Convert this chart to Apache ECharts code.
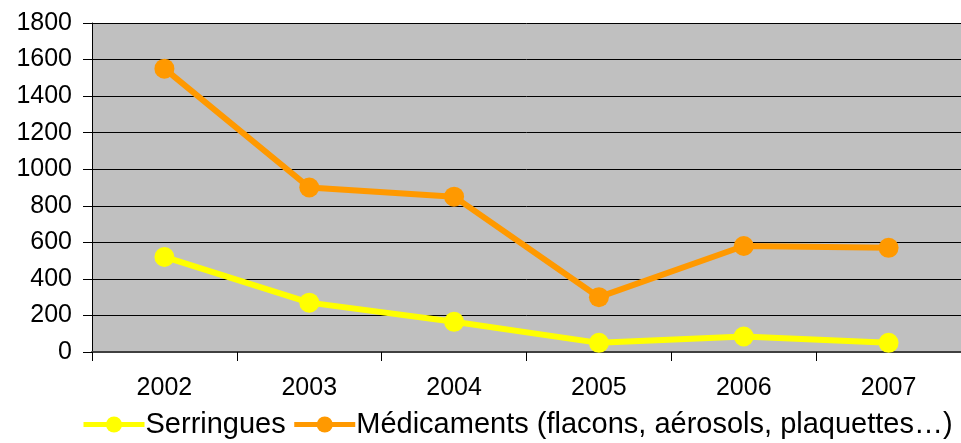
<!DOCTYPE html>
<html>
<head>
<meta charset="utf-8">
<script src="https://cdn.jsdelivr.net/npm/echarts@6/dist/echarts.min.js"></script>
<style>
  html, body { margin: 0; padding: 0; background: #fff; }
  #main { width: 961px; height: 443px; }
</style>
</head>
<body>
<div id="main"></div>
<script>
// years on x axis
const years = ['2002', '2003', '2004', '2005', '2006', '2007']
// syringes collected
const serringues = [520, 270, 165, 50, 85, 50]
// medicines (vials, aerosols, blister packs)
const medicaments = [1550, 900, 850, 300, 580, 570]

const font = '"Liberation Sans", Arial, sans-serif'

let myChart = echarts.init(document.getElementById('main'))
let options = {
  animation: false,
  backgroundColor: '#ffffff',
  textStyle: { fontFamily: font },
  grid: {
    left: 92,
    right: -2,
    top: 23,
    bottom: 91,
    show: true,
    backgroundColor: '#c0c0c0',
    borderWidth: 0
  },
  legend: {
    left: 76,
    top: 405,
    itemWidth: 61,
    itemHeight: 20,
    itemGap: 6,
    lineStyle: { width: 5 },
    textStyle: { fontFamily: font, fontSize: 29, color: '#000', padding: [0, 0, 0, -4] },
    data: ['Serringues', 'Médicaments (flacons, aérosols, plaquettes…)']
  },
  xAxis: {
    type: 'category',
    data: years,
    boundaryGap: true,
    axisLine: { lineStyle: { color: '#404040', width: 2 } },
    axisTick: { show: true, length: 9, lineStyle: { color: '#000' } },
    axisLabel: { fontFamily: font, fontSize: 25, color: '#000', margin: 24 },
    splitLine: { show: false }
  },
  yAxis: {
    type: 'value',
    min: 0,
    max: 1800,
    interval: 200,
    axisLine: { show: true, lineStyle: { color: '#000', width: 1 } },
    axisTick: { show: true, inside: false, length: 9, lineStyle: { color: '#000' } },
    axisLabel: { fontFamily: font, fontSize: 25, color: '#000', margin: 20, formatter: v => String(v) },
    splitLine: { show: true, lineStyle: { color: '#000', width: 1 } }
  },
  series: [{
    name: 'Serringues',
    type: 'line',
    data: serringues,
    symbol: 'circle',
    symbolSize: 20,
    color: '#ffff00',
    lineStyle: { color: '#ffff00', width: 6 },
    itemStyle: { color: '#ffff00' }
  }, {
    name: 'Médicaments (flacons, aérosols, plaquettes…)',
    type: 'line',
    data: medicaments,
    symbol: 'circle',
    symbolSize: 20,
    color: '#ff9900',
    lineStyle: { color: '#ff9900', width: 6 },
    itemStyle: { color: '#ff9900' }
  }]
}
myChart.setOption(options)
</script>
</body>
</html>
